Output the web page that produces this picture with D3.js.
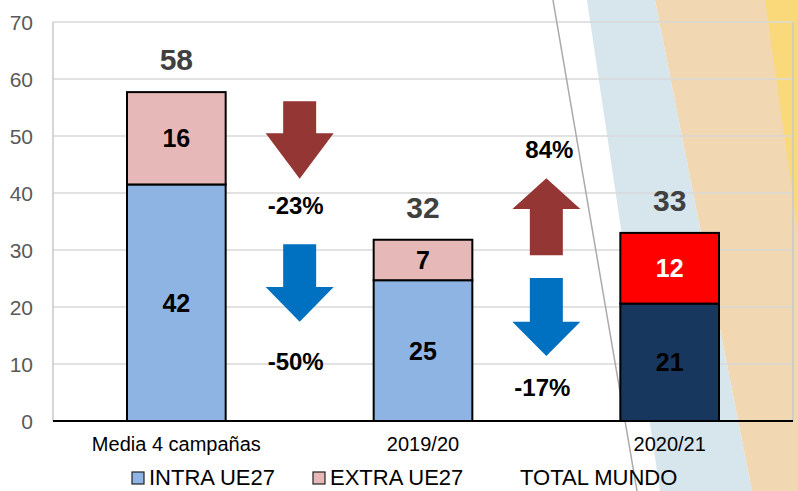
<!DOCTYPE html>
<html><head><meta charset="utf-8">
<script src="https://cdn.jsdelivr.net/npm/d3@7"></script>
<style>body{margin:0;background:#fff;overflow:hidden}svg{display:block;font-family:Arial,"Liberation Sans",sans-serif}</style>
</head><body>
<script>
const categories = ["Media 4 campañas", "2019/20", "2020/21"];
const intraValues = [41.5, 24.7, 20.6];
const extraValues = [16.2, 7.1, 12.4];
const intraColors = ["#8EB4E3", "#8EB4E3", "#17375E"];
const extraColors = ["#E6B9B8", "#E6B9B8", "#FF0000"];
const extraLabelColors = ["#000", "#000", "#fff"];
const yTicks = [0, 10, 20, 30, 40, 50, 60, 70];
const legendLabels = ["INTRA UE27", "EXTRA UE27", "TOTAL MUNDO"];
// change annotations between periods (from index -> to index)
const changeFrom = [0, 0, 1, 1];
const changeDir = ["down", "down", "up", "down"];
const changeColor = ["#943634", "#0070C0", "#943634", "#0070C0"];
const changeTop = [56.1, 31.0, 42.6, 25.1];     // value units
const changeBottom = [42.5, 17.4, 29.1, 11.4];
const changeHeadLen = [8.0, 6.1, 5.4, 6.0];
const changeText = ["-23%", "-50%", "84%", "-17%"];
const changeTextY = [36.3, 8.9, 46.1, 4.4];
const changeTextShift = [-4, -4, 3, -4];

const W = 798, H = 491;
const svg = d3.select("body").append("svg").attr("width", W).attr("height", H);

// decorative background
const bg = svg.append("g");
bg.append("polygon").attr("points", "587,0 655,0 752,491 660,491").attr("fill", "#D7E5ED");
bg.append("polygon").attr("points", "655,0 798,0 798,491 752,491").attr("fill", "#F1D8B2");
bg.append("polygon").attr("points", "765,0 798,0 798,233").attr("fill", "#F9D97A");

const x0 = 53, x1 = 793, yTop = 22, yBot = 421;
const x = d3.scaleBand().domain(categories).range([x0, x1]).paddingInner(0.6).paddingOuter(0.3);
const y = d3.scaleLinear().domain([0, 70]).range([yBot, yTop]);

// gridlines
svg.append("g").selectAll("line").data(yTicks.filter(d => d > 0)).join("line")
  .attr("x1", x0).attr("x2", x1).attr("y1", d => y(d)).attr("y2", d => y(d))
  .attr("stroke", "#D9D9D9").attr("stroke-width", 1.5);
// plot border
svg.append("line").attr("x1", x0).attr("x2", x0).attr("y1", yTop).attr("y2", yBot).attr("stroke", "#C8C8C8").attr("stroke-width", 1.5);
svg.append("line").attr("x1", x1).attr("x2", x1).attr("y1", yTop).attr("y2", yBot).attr("stroke", "#C8C8C8").attr("stroke-width", 1.5);

// diagonal decorative line
svg.append("line").attr("x1", 553).attr("y1", 0).attr("x2", 637).attr("y2", 491).attr("stroke", "#ABABAB").attr("stroke-width", 1.5);

// y axis labels
const yAxis = d3.axisLeft(y).tickValues(yTicks).tickSize(0).tickPadding(0);
const ya = svg.append("g").attr("transform", `translate(33,0)`).call(yAxis);
ya.select(".domain").remove();
ya.selectAll("text").attr("font-size", 21).attr("fill", "#595959").attr("font-family", "Arial, 'Liberation Sans', sans-serif").attr("dy", "0.36em");

// bars
const bw = x.bandwidth();
const bars = svg.append("g");
categories.forEach((c, i) => {
  bars.append("rect").attr("x", x(c)).attr("width", bw)
    .attr("y", y(intraValues[i])).attr("height", y(0) - y(intraValues[i]))
    .attr("fill", intraColors[i]).attr("stroke", "#000").attr("stroke-width", 2);
  bars.append("rect").attr("x", x(c)).attr("width", bw)
    .attr("y", y(intraValues[i] + extraValues[i])).attr("height", y(0) - y(extraValues[i]))
    .attr("fill", extraColors[i]).attr("stroke", "#000").attr("stroke-width", 2);
});

// x axis
svg.append("line").attr("x1", x0).attr("x2", x1).attr("y1", yBot).attr("y2", yBot).attr("stroke", "#000").attr("stroke-width", 2);
const xAxis = d3.axisBottom(x).tickSize(0).tickPadding(0);
const xa = svg.append("g").attr("transform", `translate(0,${yBot})`).call(xAxis);
xa.select(".domain").remove();
xa.selectAll("text").attr("font-size", 20).attr("fill", "#000").attr("font-family", "Arial, 'Liberation Sans', sans-serif").attr("dy", null).attr("y", 30);

// bar labels
const lab = svg.append("g").attr("font-weight", "bold").attr("text-anchor", "middle");
categories.forEach((c, i) => {
  const cx = x(c) + bw / 2;
  lab.append("text").attr("x", cx).attr("y", y(intraValues[i] / 2)).attr("dy", "0.36em")
    .attr("font-size", 25).attr("fill", "#000").text(Math.round(intraValues[i]));
  lab.append("text").attr("x", cx).attr("y", y(intraValues[i] + extraValues[i] / 2)).attr("dy", "0.36em")
    .attr("font-size", 25).attr("fill", extraLabelColors[i]).text(Math.round(extraValues[i]));
  const tot = intraValues[i] + extraValues[i];
  lab.append("text").attr("x", cx).attr("y", y(tot) - 22)
    .attr("font-size", 30).attr("fill", "#404040").text(Math.round(tot));
});

// change arrows
const arr = svg.append("g");
changeFrom.forEach((f, k) => {
  const cx = (x(categories[f]) + x(categories[f + 1]) + bw) / 2;
  const sw = 16.5, hw = 34;
  const t = y(changeTop[k]), b = y(changeBottom[k]);
  let pts;
  if (changeDir[k] === "down") {
    const hs = y(changeBottom[k] + changeHeadLen[k]);
    pts = [[cx - sw, t], [cx + sw, t], [cx + sw, hs], [cx + hw, hs], [cx, b], [cx - hw, hs], [cx - sw, hs]];
  } else {
    const hs = y(changeTop[k] - changeHeadLen[k]);
    pts = [[cx, t], [cx + hw, hs], [cx + sw, hs], [cx + sw, b], [cx - sw, b], [cx - sw, hs], [cx - hw, hs]];
  }
  arr.append("polygon").attr("points", pts.map(p => p.join(",")).join(" ")).attr("fill", changeColor[k]);
  arr.append("text").attr("x", cx + changeTextShift[k]).attr("y", y(changeTextY[k])).attr("text-anchor", "middle")
    .attr("font-size", 24).attr("font-weight", "bold").attr("fill", "#000").text(changeText[k]);
});

// legend
const lg = svg.append("g").attr("font-size", 22).attr("fill", "#000");
const legX = [132, 313, 520];
const legSw = ["#8EB4E3", "#E6B9B8", null];
legendLabels.forEach((l, i) => {
  if (legSw[i]) {
    lg.append("rect").attr("x", legX[i]).attr("y", 472).attr("width", 12).attr("height", 12)
      .attr("fill", legSw[i]).attr("stroke", "#222").attr("stroke-width", 1.2);
    lg.append("text").attr("x", legX[i] + 17).attr("y", 485).text(l);
  } else {
    lg.append("text").attr("x", legX[i]).attr("y", 485).text(l);
  }
});
</script>
</body></html>
